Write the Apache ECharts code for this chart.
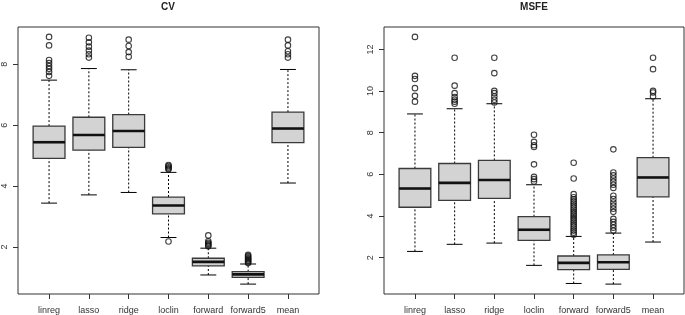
<!DOCTYPE html>
<html>
<head>
<meta charset="utf-8">
<script src="https://cdn.jsdelivr.net/npm/echarts@6/dist/echarts.min.js"></script>
<style>
  html, body { margin: 0; padding: 0; background: #fff; }
  #chart { width: 685px; height: 315px; }
</style>
</head>
<body>
<div id="chart"></div>
<script>
var categories = ['linreg', 'lasso', 'ridge', 'loclin', 'forward', 'forward5', 'mean'];

// [lower whisker, Q1, median, Q3, upper whisker]
var cvStats = [
  [3.44, 4.91, 5.44, 5.97, 7.48],
  [3.71, 5.18, 5.68, 6.26, 7.86],
  [3.79, 5.27, 5.81, 6.35, 7.82],
  [2.31, 3.09, 3.36, 3.64, 4.45],
  [1.08, 1.38, 1.51, 1.63, 1.96],
  [0.78, 1.00, 1.10, 1.19, 1.44],
  [4.10, 5.43, 5.89, 6.43, 7.83]
];
var cvOutliers = [
  [8.90, 8.62, 8.14, 8.04, 7.94, 7.85, 7.75, 7.62],
  [8.87, 8.72, 8.58, 8.45, 8.33, 8.22],
  [8.81, 8.60, 8.40, 8.25],
  [4.55, 4.58, 4.62, 4.66, 4.69, 2.18],
  [2.38, 2.19, 2.14, 2.10, 2.06, 2.02],
  [1.47, 1.50, 1.53, 1.56, 1.60, 1.63, 1.66, 1.70, 1.74],
  [8.81, 8.62, 8.43, 8.33, 8.22]
];

var msfeStats = [
  [2.30, 4.42, 5.32, 6.28, 8.90],
  [2.64, 4.75, 5.59, 6.52, 9.15],
  [2.70, 4.85, 5.73, 6.67, 9.39],
  [1.63, 2.83, 3.34, 3.97, 5.50],
  [0.76, 1.43, 1.75, 2.08, 3.02],
  [0.73, 1.44, 1.78, 2.13, 3.18],
  [2.75, 4.92, 5.85, 6.80, 9.63]
];
var msfeOutliers = [
  [12.60, 10.73, 10.58, 10.14, 9.77, 9.49],
  [11.60, 10.26, 9.90, 9.71, 9.58, 9.49, 9.39],
  [11.60, 10.86, 10.01, 9.90, 9.74, 9.58, 9.45],
  [7.90, 7.56, 7.40, 7.31, 6.48, 5.88, 5.77, 5.66],
  [6.56, 5.80, 5.05, 4.90, 4.80, 4.70, 4.60, 4.50, 4.40, 4.30, 4.20, 4.10, 4.00,
   3.90, 3.80, 3.70, 3.60, 3.50, 3.40, 3.30, 3.20, 3.10],
  [7.20, 6.09, 5.95, 5.80, 5.65, 5.50, 5.35, 4.97, 4.82, 4.65, 4.50, 4.35, 4.20,
   3.86, 3.72, 3.58, 3.44, 3.30],
  [11.60, 11.05, 10.01, 9.93, 9.74]
];

var cvTicks = [2, 4, 6, 8];
var msfeTicks = [2, 4, 6, 8, 10, 12];

var ink = '#333';
var font = 'Liberation Sans, Arial, sans-serif';

function boxRows(stats) {
  return stats.map(function (s, i) { return [i + 1].concat(s); });
}
function outlierRows(outs) {
  var rows = [];
  outs.forEach(function (list, i) {
    list.forEach(function (v) { rows.push([i + 1, v]); });
  });
  return rows;
}

function seg(x1, y1, x2, y2, dashed) {
  return {
    type: 'line',
    shape: { x1: x1, y1: y1, x2: x2, y2: y2 },
    style: { stroke: '#000', lineWidth: 1, lineDash: dashed ? [2, 2] : null }
  };
}

function renderBox(params, api) {
  var x = api.value(0);
  var lo = api.coord([x, api.value(1)]);
  var q1 = api.coord([x, api.value(2)]);
  var md = api.coord([x, api.value(3)]);
  var q3 = api.coord([x, api.value(4)]);
  var hi = api.coord([x, api.value(5)]);
  var hw = api.size([0.8, 0])[0] / 2;
  var sw = api.size([0.4, 0])[0] / 2;
  return {
    type: 'group',
    children: [
      seg(lo[0], lo[1], q1[0], q1[1], true),
      seg(q3[0], q3[1], hi[0], hi[1], true),
      seg(lo[0] - sw, lo[1], lo[0] + sw, lo[1], false),
      seg(hi[0] - sw, hi[1], hi[0] + sw, hi[1], false),
      { type: 'rect', shape: { x: q3[0] - hw, y: q3[1], width: hw * 2, height: q1[1] - q3[1] },
        style: { fill: '#d3d3d3', stroke: '#3a3a3a', lineWidth: 1.3 } },
      { type: 'line', shape: { x1: md[0] - hw, y1: md[1], x2: md[0] + hw, y2: md[1] },
        style: { stroke: '#111', lineWidth: 2.6 } }
    ]
  };
}

function xAxisFor(idx) {
  return {
    gridIndex: idx, type: 'value', min: 0.22, max: 7.78,
    axisLine: { show: false },
    axisTick: { show: true, length: 5, customValues: [1, 2, 3, 4, 5, 6, 7], lineStyle: { color: ink } },
    axisLabel: {
      customValues: [1, 2, 3, 4, 5, 6, 7], margin: 12, color: ink, fontSize: 9, fontFamily: font,
      formatter: function (v) { return categories[Math.round(v) - 1]; }
    },
    splitLine: { show: false }
  };
}
function yAxisFor(idx, min, max, ticks) {
  return {
    gridIndex: idx, type: 'value', min: min, max: max,
    axisLine: { show: false },
    axisTick: { show: true, length: 5, customValues: ticks, lineStyle: { color: ink } },
    axisLabel: { customValues: ticks, rotate: 90, margin: 9, color: ink, fontSize: 9, fontFamily: font },
    splitLine: { show: false }
  };
}

function outlierSeries(idx, outs) {
  return {
    type: 'scatter', xAxisIndex: idx, yAxisIndex: idx, symbol: 'circle', symbolSize: 5.5,
    itemStyle: { color: 'rgba(255,255,255,0)', borderColor: '#111', borderWidth: 1.1 },
    data: outlierRows(outs)
  };
}

var chart = echarts.init(document.getElementById('chart'));
var option = {
  animation: false,
  backgroundColor: '#fff',
  title: [
    { text: 'CV', left: 168, top: 2, padding: 0, textAlign: 'center',
      textStyle: { fontSize: 10, fontWeight: 'bold', color: '#222', fontFamily: font } },
    { text: 'MSFE', left: 534, top: 2, padding: 0, textAlign: 'center',
      textStyle: { fontSize: 10, fontWeight: 'bold', color: '#222', fontFamily: font } }
  ],
  grid: [
    { left: 18, top: 27, width: 301, height: 268, show: true, borderColor: ink, borderWidth: 1 },
    { left: 384, top: 27, width: 300, height: 268, show: true, borderColor: ink, borderWidth: 1 }
  ],
  xAxis: [xAxisFor(0), xAxisFor(1)],
  yAxis: [yAxisFor(0, 0.455, 9.225, cvTicks), yAxisFor(1, 0.255, 13.075, msfeTicks)],
  series: [
    { type: 'custom', xAxisIndex: 0, yAxisIndex: 0, renderItem: renderBox,
      encode: { x: 0, y: [1, 2, 3, 4, 5] }, data: boxRows(cvStats), clip: false },
    outlierSeries(0, cvOutliers),
    { type: 'custom', xAxisIndex: 1, yAxisIndex: 1, renderItem: renderBox,
      encode: { x: 0, y: [1, 2, 3, 4, 5] }, data: boxRows(msfeStats), clip: false },
    outlierSeries(1, msfeOutliers)
  ]
};
chart.setOption(option);
</script>
</body>
</html>
